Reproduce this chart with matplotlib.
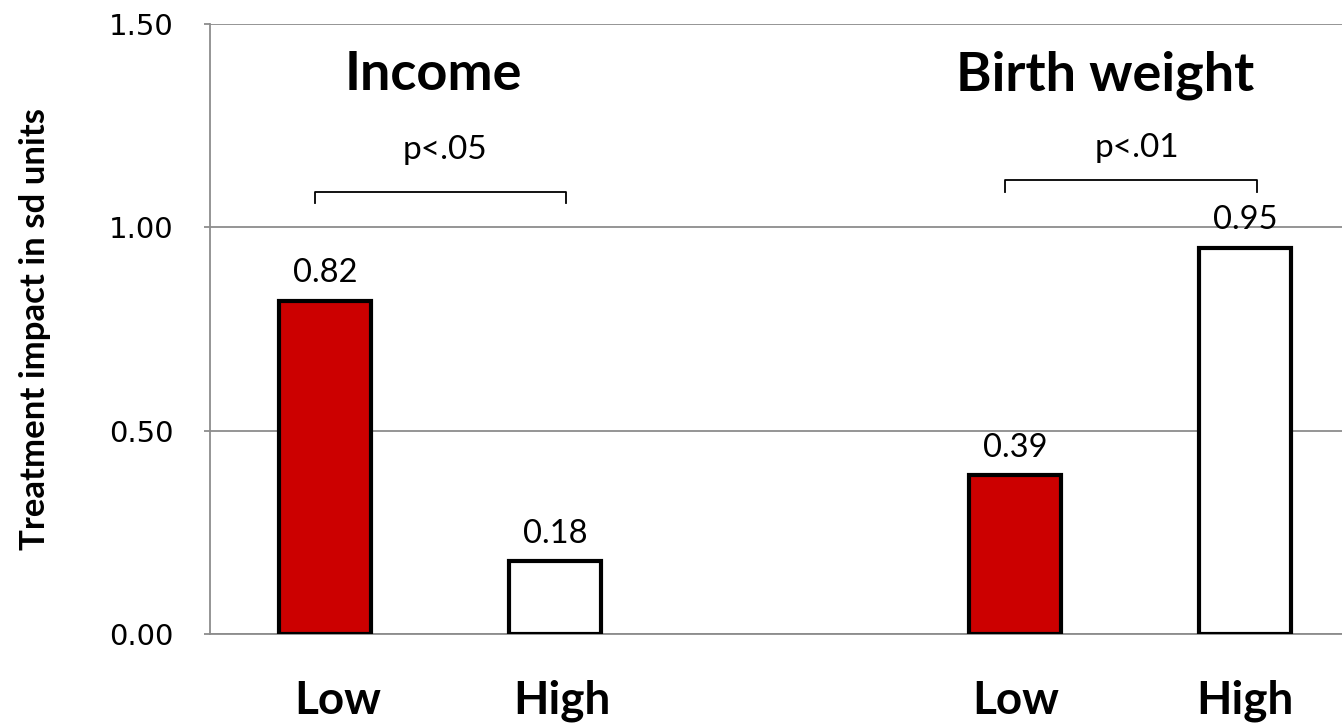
import matplotlib
matplotlib.use("Agg")
import matplotlib.pyplot as plt

# Data
groups = ["Income", "Birth weight"]
levels = ["Low", "High", "Low", "High"]
values = [0.82, 0.18, 0.39, 0.95]
positions = [0, 1, 3, 4]
bar_colors = ["#CC0000", "white", "#CC0000", "white"]
p_labels = ["p<.05", "p<.01"]

font_main = "Lato"

fig = plt.figure(figsize=(13.42, 7.23), dpi=100)
ax = fig.add_axes([0.1565, 0.1231, 0.8435, 0.8437])

ax.bar(positions, values, width=0.4, color=bar_colors, edgecolor="black",
       linewidth=3, zorder=3)

# value labels
for x, v in zip(positions, values):
    ax.text(x, v + 0.03, "{:.2f}".format(v), ha="center", va="bottom",
            fontsize=23.5, family=font_main)

ax.set_xlim(-0.5, 4.42)
ax.set_ylim(0, 1.5)
ax.set_yticks([0, 0.5, 1.0, 1.5])
ax.set_yticklabels(["0.00", "0.50", "1.00", "1.50"], fontsize=21,
                   family="DejaVu Sans")
ax.yaxis.grid(True, color="#8c8c8c", linewidth=1.3, zorder=0)
ax.set_axisbelow(True)
ax.tick_params(axis="y", length=4, width=1.3, color="#8c8c8c", pad=22)

# category labels under the bars (income labels sit slightly right in the original)
ax.set_xticks([])
label_shift = [0.055, 0.03, 0.0, 0.0]
for x, lab, dx in zip(positions, levels, label_shift):
    ax.text(x + dx, -0.165, lab, ha="center", va="center", fontsize=33,
            fontweight="bold", family=font_main)

for s in ["top", "right"]:
    ax.spines[s].set_visible(False)
ax.spines["left"].set_color("#8c8c8c")
ax.spines["left"].set_linewidth(1.3)
ax.spines["bottom"].set_color("#8c8c8c")
ax.spines["bottom"].set_linewidth(1.3)

ax.set_ylabel("Treatment impact in sd units", fontsize=25, fontweight="bold",
              family=font_main)
ax.yaxis.label.set_va("center")
ax.yaxis.set_label_coords(-0.155, 0.5)

# group titles
ax.text(0.47, 1.375, groups[0], ha="center", va="center", fontsize=39,
        fontweight="bold", family=font_main)
ax.text(3.39, 1.375, groups[1], ha="center", va="center", fontsize=39,
        fontweight="bold", family=font_main)

# significance brackets
brackets = [(-0.043, 1.048, 1.087, 1.06, 0.52, 1.19),
            (2.957, 4.052, 1.116, 1.087, 3.53, 1.195)]
for (x0, x1, ytop, yend, xt, yt), lab in zip(brackets, p_labels):
    ax.plot([x0, x0, x1, x1], [yend, ytop, ytop, yend], color="black",
            linewidth=1.3, clip_on=False)
    ax.text(xt, yt, lab, ha="center", va="center", fontsize=24,
            family=font_main)

plt.savefig("out.png", dpi=100)
